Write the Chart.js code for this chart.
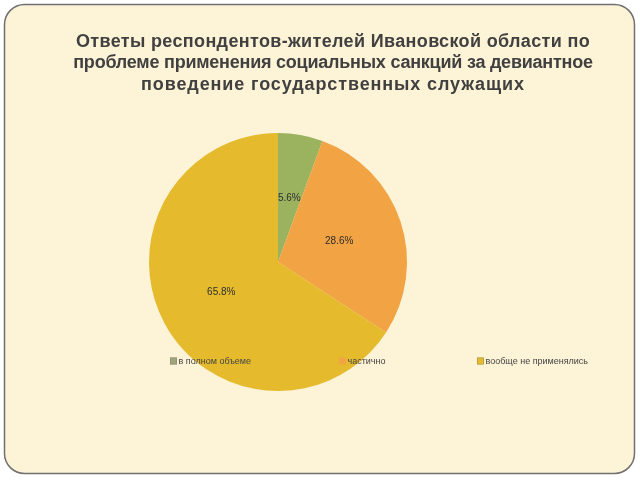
<!DOCTYPE html>
<html>
<head>
<meta charset="utf-8">
<script src="https://cdn.jsdelivr.net/npm/chart.js@4"></script>
<style>
html,body{margin:0;padding:0;background:#ffffff;}
#wrap{width:640px;height:480px;position:relative;}
</style>
</head>
<body>
<div id="wrap"><canvas id="c" width="640" height="480"></canvas></div>
<script>
const titleLines = [
  "Ответы респондентов-жителей Ивановской области по",
  "проблеме применения социальных санкций за девиантное",
  "поведение государственных служащих"
];
const titleWidths = [514, 520, 383];
const categories = ["в полном объеме", "частично", "вообще не применялись"];
const values = [5.6, 28.6, 65.8];
const sliceColors = ["#9bb25f", "#f2a344", "#e5bb2d"];

const framePlugin = {
  id: 'frame',
  beforeDraw(chart) {
    const ctx = chart.ctx;
    ctx.save();
    ctx.fillStyle = '#ffffff';
    ctx.fillRect(0, 0, chart.width, chart.height);
    const x = 4.5, y = 4.5, w = 630, h = 469, r = 20;
    ctx.beginPath();
    ctx.moveTo(x + r, y);
    ctx.lineTo(x + w - r, y);
    ctx.arcTo(x + w, y, x + w, y + r, r);
    ctx.lineTo(x + w, y + h - r);
    ctx.arcTo(x + w, y + h, x + w - r, y + h, r);
    ctx.lineTo(x + r, y + h);
    ctx.arcTo(x, y + h, x, y + h - r, r);
    ctx.lineTo(x, y + r);
    ctx.arcTo(x, y, x + r, y, r);
    ctx.closePath();
    ctx.fillStyle = '#fdf3d6';
    ctx.fill();
    ctx.lineWidth = 1.5;
    ctx.strokeStyle = '#707070';
    ctx.stroke();
    // title
    ctx.fillStyle = '#404040';
    ctx.font = 'bold 18px "Liberation Sans", Arial, sans-serif';
    ctx.textAlign = 'center';
    ctx.textBaseline = 'middle';
    titleLines.forEach((t, i) => {
      if ('letterSpacing' in ctx) {
        ctx.letterSpacing = '0px';
        const mw = ctx.measureText(t).width;
        const ls = (titleWidths[i] - mw) / (t.length - 1);
        ctx.letterSpacing = ls.toFixed(2) + 'px';
      }
      ctx.fillText(t, 333, 42 + i * 21.5);
    });
    ctx.restore();
  },
  afterDraw(chart) {
    const ctx = chart.ctx;
    const meta = chart.getDatasetMeta(0);
    ctx.save();
    ctx.font = '10px "Liberation Sans", Arial, sans-serif';
    ctx.fillStyle = '#2e2e2e';
    ctx.textAlign = 'center';
    ctx.textBaseline = 'middle';
    meta.data.forEach((arc, i) => {
      const p = arc.tooltipPosition();
      ctx.fillText(values[i].toFixed(1) + '%', p.x, p.y);
    });
    // legend
    const lx = [170, 339, 477];
    const ly = 361;
    ctx.font = '9px "Liberation Sans", Arial, sans-serif';
    ctx.textAlign = 'left';
    categories.forEach((c, i) => {
      ctx.fillStyle = i === 0 ? '#a0a57e' : sliceColors[i];
      ctx.fillRect(lx[i], ly - 3.5, 7, 7);
      ctx.strokeStyle = 'rgba(120,120,100,0.6)';
      ctx.lineWidth = 0.6;
      if (i !== 1) ctx.strokeRect(lx[i] + 0.3, ly - 3.2, 6.4, 6.4);
      ctx.fillStyle = '#454545';
      ctx.fillText(c, lx[i] + 8.5, ly + 0.5);
    });
    ctx.restore();
  }
};

new Chart(document.getElementById('c'), {
  type: 'pie',
  data: {
    labels: categories,
    datasets: [{
      data: values,
      backgroundColor: sliceColors,
      borderWidth: 0
    }]
  },
  options: {
    responsive: false,
    animation: false,
    layout: { padding: { left: 149, right: 233, top: 133, bottom: 89 } },
    plugins: {
      legend: { display: false },
      title: { display: false },
      tooltip: { enabled: false }
    }
  },
  plugins: [framePlugin]
});
</script>
</body>
</html>
